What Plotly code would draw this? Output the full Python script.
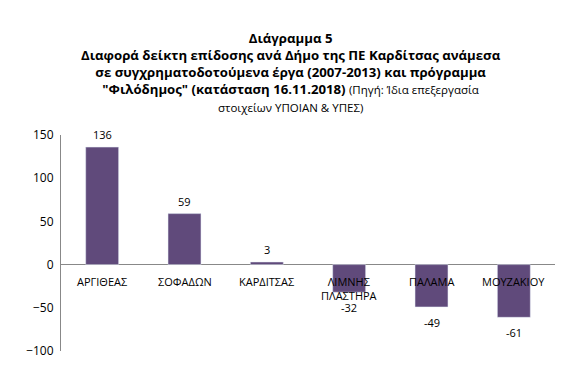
import plotly.graph_objects as go

categories = ["ΑΡΓΙΘΕΑΣ", "ΣΟΦΑΔΩΝ", "ΚΑΡΔΙΤΣΑΣ", "ΛΙΜΝΗΣ<br>ΠΛΑΣΤΗΡΑ", "ΠΑΛΑΜΑ", "ΜΟΥΖΑΚΙΟΥ"]
values = [136, 59, 3, -32, -49, -61]
y_ticks = [-100, -50, 0, 50, 100, 150]

FONT = "Open Sans"
BAR = "#604A7B"

# plot area in figure pixels
L, R, T, B = 53, 25, 127, 44
W, H = 572, 387
PW, PH = W - L - R, H - T - B

fig = go.Figure()
fig.add_trace(go.Bar(
    x=categories, y=values, marker_color=BAR,
    cliponaxis=False, width=0.4,
))

# value labels
for c, v in zip(categories, values):
    fig.add_annotation(x=c, y=v, xref="x", yref="y", text=str(v), showarrow=False,
                       yanchor="bottom" if v >= 0 else "top",
                       yshift=3 if v >= 0 else -6,
                       font=dict(family=FONT, size=11, color="#000000"))

# category labels just below the zero line
for c in categories:
    fig.add_annotation(x=c, y=0, xref="x", yref="y", text=c, showarrow=False,
                       yanchor="top", yshift=-7,
                       font=dict(family=FONT, size=11, color="#000000"))

title = ("<b>Διάγραμμα 5</b><br>"
         "<b>Διαφορά δείκτη επίδοσης ανά Δήμο της ΠΕ Καρδίτσας ανάμεσα</b><br>"
         "<b>σε συγχρηματοδοτούμενα έργα (2007-2013) και πρόγραμμα</b><br>"
         "<b>\"Φιλόδημος\" (κατάσταση 16.11.2018)</b> <span style='font-size:11.5px'>(Πηγή: Ίδια επεξεργασία</span><br>"
         "<span style='font-size:11.5px'>στοιχείων ΥΠΟΙΑΝ &amp; ΥΠΕΣ)</span>")
fig.add_annotation(xref="paper", yref="paper", x=(283 - L) / PW, y=1 + (T - 64) / PH,
                   xanchor="center", yanchor="middle", text=title, showarrow=False,
                   font=dict(family=FONT, size=13.2, color="#000000"))

fig.update_layout(
    width=W, height=H,
    margin=dict(l=L, r=R, t=T, b=B),
    paper_bgcolor="white", plot_bgcolor="white",
    showlegend=False,
    font=dict(family=FONT, size=11, color="#000000"),
    xaxis=dict(showticklabels=False, showline=False, showgrid=False, zeroline=False, ticks=""),
    yaxis=dict(range=[-100, 150], tickvals=y_ticks, showgrid=False, zeroline=True,
               zerolinecolor="#888888", zerolinewidth=1, showline=True, linecolor="#888888",
               linewidth=1, ticks="", ticklabelstandoff=4,
               tickfont=dict(family=FONT, size=12, color="#000000")),
)

fig.write_html("out.html")
